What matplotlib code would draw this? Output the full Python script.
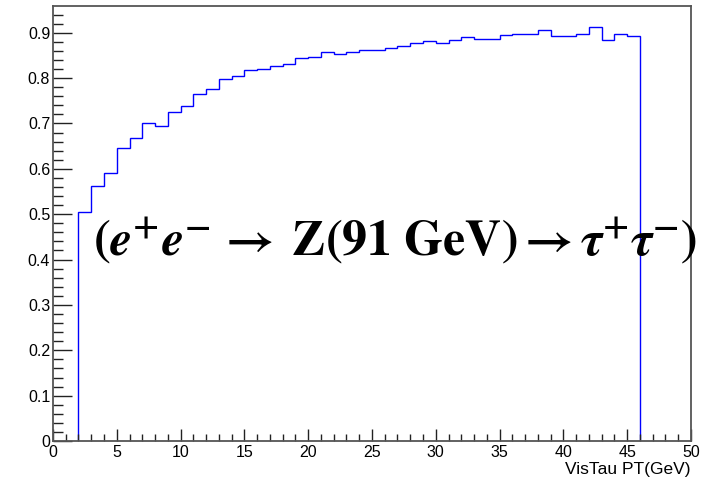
import matplotlib
matplotlib.use('Agg')
import matplotlib.pyplot as plt
import numpy as np
from matplotlib.ticker import MultipleLocator

# bin edges (GeV) and contents
bin_edges = list(range(2, 47))
efficiency = [0.504, 0.563, 0.591, 0.646, 0.667, 0.701, 0.694, 0.726, 0.739, 0.764,
              0.777, 0.799, 0.805, 0.817, 0.819, 0.827, 0.832, 0.845, 0.847, 0.857,
              0.853, 0.858, 0.862, 0.863, 0.867, 0.870, 0.878, 0.882, 0.878, 0.885,
              0.890, 0.887, 0.887, 0.896, 0.898, 0.898, 0.905, 0.892, 0.892, 0.898,
              0.913, 0.885, 0.898, 0.893]
x_label = 'VisTau PT(GeV)'
process = (r'$\mathbf{(}\mathbfit{e}^{\mathbf{+}}\mathbfit{e}^{\mathbf{-}}\,\mathbf{\rightarrow}\;'
           r'\mathbf{Z(91\ GeV)}\mathbf{\rightarrow}'
           r'\mathbfit{\tau}^{\mathbf{+}}\mathbfit{\tau}^{\mathbf{-}}\mathbf{)}$')

plt.rcParams['font.family'] = ['Liberation Sans', 'DejaVu Sans']
plt.rcParams['mathtext.fontset'] = 'stix'

fig = plt.figure(figsize=(7.1, 4.82), dpi=100)
ax = fig.add_axes([0.0746, 0.085, 0.8986, 0.9026])

ax.stairs(efficiency, bin_edges, color='#0000ff', linewidth=1.0, baseline=0)

ax.set_xlim(0, 50)
ax.set_ylim(0, 0.959)
ax.xaxis.set_major_locator(MultipleLocator(5))
ax.xaxis.set_minor_locator(MultipleLocator(1))
ax.yaxis.set_major_locator(MultipleLocator(0.1))
ax.yaxis.set_minor_locator(MultipleLocator(0.02))

def yfmt(v, pos):
    return '0' if abs(v) < 1e-9 else f'{v:.1f}'
ax.yaxis.set_major_formatter(plt.FuncFormatter(yfmt))

ax.tick_params(axis='both', which='both', direction='in', colors='#222222',
               labelsize=11.5, labelcolor='black')
ax.tick_params(axis='y', which='major', length=13.5, width=1.0, pad=2)
ax.tick_params(axis='y', which='minor', length=7, width=1.0)
ax.tick_params(axis='x', which='major', length=8.5, width=1.0, pad=3)
ax.tick_params(axis='x', which='minor', length=5, width=1.0)

for s in ax.spines.values():
    s.set_color('#555555')
    s.set_linewidth(1.3)

ax.set_xlabel(x_label, fontsize=12.5, loc='right', labelpad=1)

fig.text(0.131, 0.50, process, fontsize=36, ha='left', va='center')

fig.savefig('out.png', dpi=100)
